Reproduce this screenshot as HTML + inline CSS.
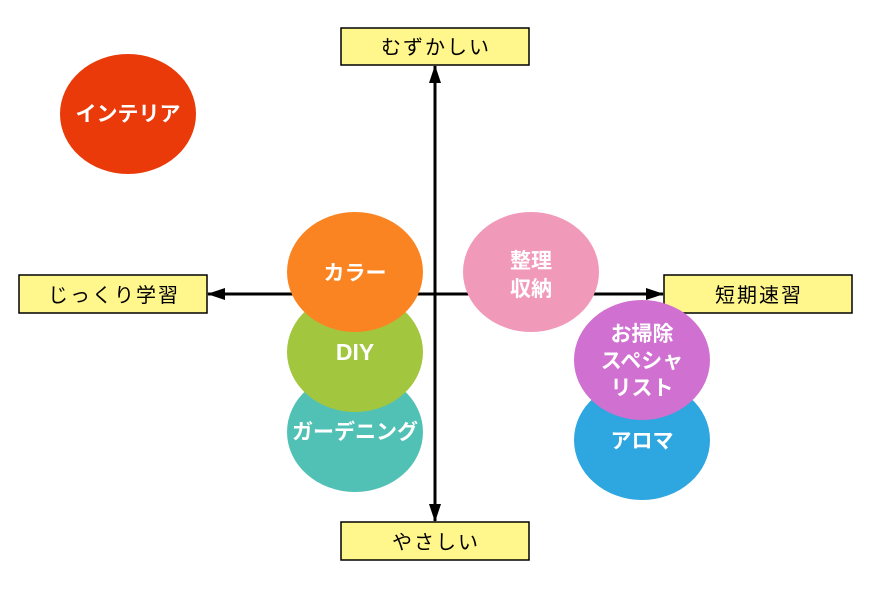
<!DOCTYPE html>
<html><head><meta charset="utf-8"><style>
body{margin:0;background:#fff;width:870px;height:586px;overflow:hidden}
svg text{font-family:"Liberation Sans","Noto Sans CJK JP",sans-serif}
</style></head><body>
<svg width="870" height="586" viewBox="0 0 870 586" xmlns="http://www.w3.org/2000/svg">
<defs>
<marker id="b" markerWidth="18" markerHeight="12" refX="17" refY="6" orient="auto" markerUnits="userSpaceOnUse"><path d="M0,0 L18,6 L0,12 Z" fill="#000"/></marker></defs>
<line x1="435" y1="294" x2="435" y2="66" stroke="#000" stroke-width="3" marker-end="url(#b)"/>
<line x1="435" y1="294" x2="435" y2="521" stroke="#000" stroke-width="3" marker-end="url(#b)"/>
<line x1="435" y1="294" x2="208" y2="294" stroke="#000" stroke-width="3" marker-end="url(#b)"/>
<line x1="435" y1="294" x2="663" y2="294" stroke="#000" stroke-width="3" marker-end="url(#b)"/>
<g stroke="#000" stroke-width="1.5" fill="#FFF68C">
<rect x="341" y="28" width="188" height="37"/>
<rect x="341" y="522" width="188" height="38"/>
<rect x="19" y="275" width="188" height="38"/>
<rect x="664" y="275" width="188" height="38"/>
</g>
<g font-size="20" text-anchor="middle" fill="#000" letter-spacing="2">
<text x="436" y="54">むずかしい</text>
<text x="436" y="549">やさしい</text>
<text x="114" y="302">じっくり学習</text>
<text x="759" y="302">短期速習</text>
</g>
<ellipse cx="128" cy="114" rx="68" ry="60" fill="#EA3A0A"/>
<ellipse cx="355" cy="432" rx="68" ry="60" fill="#52C1B5"/>
<ellipse cx="355" cy="352" rx="68" ry="60" fill="#A2C73E"/>
<ellipse cx="355" cy="272" rx="68" ry="60" fill="#FB8422"/>
<ellipse cx="531" cy="272" rx="68" ry="60" fill="#F199B8"/>
<ellipse cx="642" cy="440" rx="68" ry="60" fill="#2EA6E0"/>
<ellipse cx="642" cy="360" rx="68" ry="60" fill="#D070D0"/>
<g font-size="21" font-weight="bold" text-anchor="middle" fill="#fff">
<text x="128" y="121">インテリア</text>
<text x="355" y="439">ガーデニング</text>
<text x="355" y="360" font-size="23">DIY</text>
<text x="355" y="280">カラー</text>
<text x="531" y="268">整理</text>
<text x="531" y="296">収納</text>
<text x="642" y="341">お掃除</text>
<text x="642" y="368">スペシャ</text>
<text x="642" y="395">リスト</text>
<text x="642" y="448">アロマ</text>
</g>
</svg>
</body></html>
